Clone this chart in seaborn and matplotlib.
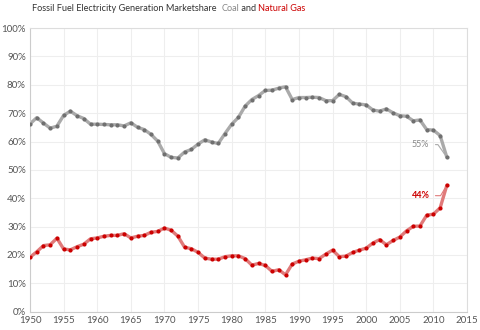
import matplotlib
matplotlib.use("Agg")
import matplotlib.pyplot as plt
import seaborn as sns
import pandas as pd

years = list(range(1950, 2013))
coal = [66.2, 68.4, 66.5, 64.7, 65.4, 69.2, 70.7, 69.1, 68.1, 66.1,
        66.1, 66.0, 65.9, 65.9, 65.5, 66.6, 65.0, 64.2, 62.5, 60.1,
        55.7, 54.4, 54.2, 56.3, 57.2, 59.1, 60.6, 59.8, 59.3, 62.8,
        66.1, 68.5, 72.5, 74.8, 76.2, 78.0, 78.1, 78.8, 79.3, 74.8,
        75.5, 75.5, 75.6, 75.5, 74.4, 74.4, 76.6, 75.8, 73.5, 73.2,
        72.9, 71.1, 70.7, 71.5, 70.1, 69.1, 68.9, 67.3, 67.6, 64.2,
        64.0, 62.1, 54.4]
gas = [19.2, 21.1, 23.3, 23.6, 25.9, 22.1, 21.8, 22.9, 23.8, 25.7,
       26.0, 26.6, 26.9, 26.9, 27.5, 26.0, 26.6, 26.9, 28.0, 28.3,
       29.5, 28.7, 26.6, 22.7, 22.2, 20.9, 18.9, 18.5, 18.5, 19.4,
       19.7, 19.7, 18.7, 16.4, 17.0, 16.3, 14.2, 14.8, 13.0, 16.8,
       17.8, 18.3, 18.9, 18.7, 20.3, 21.7, 19.4, 19.6, 20.9, 21.7,
       22.4, 24.2, 25.4, 23.6, 25.1, 26.3, 28.5, 30.1, 30.2, 34.0,
       34.4, 36.6, 44.6]
x_ticks = list(range(1950, 2016, 5))
y_ticks = list(range(0, 101, 10))
y_labels = [f"{v}%" for v in y_ticks]
title_parts = [("Fossil Fuel Electricity Generation Marketshare  ", "#333333"),
               ("Coal", "#888888"), (" and ", "#333333"), ("Natural Gas", "#cc0000")]
end_labels = ["55%", "44%"]

df = pd.DataFrame({"year": years, "coal": coal, "gas": gas})

sns.set_style("white")
plt.rcParams["font.family"] = ["Lato", "DejaVu Sans"]

fig = plt.figure(figsize=(4.8, 3.3), dpi=100)
ax = fig.add_axes([0.0625, 0.0555, 0.973 - 0.0625, 0.915 - 0.0555])

sns.lineplot(data=df, x="year", y="coal", ax=ax, color="#aaaaaa", linewidth=2.4, zorder=2)
sns.scatterplot(data=df, x="year", y="coal", ax=ax, color="#707070", s=9, linewidth=0, zorder=3)
sns.lineplot(data=df, x="year", y="gas", ax=ax, color="#e07a7a", linewidth=2.4, zorder=2)
sns.scatterplot(data=df, x="year", y="gas", ax=ax, color="#cc0000", s=9, linewidth=0, zorder=3)

ax.set_xlim(1950, 2015)
ax.set_ylim(0, 100)
ax.set_xticks(x_ticks)
ax.set_yticks(y_ticks)
ax.set_yticklabels(y_labels)
ax.set_xlabel("")
ax.set_ylabel("")
ax.tick_params(axis="both", labelsize=7, colors="#555555", length=0, pad=3)
ax.grid(True, color="#eeeeee", linewidth=0.8)
for s in ax.spines.values():
    s.set_color("#dddddd")
    s.set_linewidth(0.8)
ax.spines["left"].set_color("#cccccc")
ax.spines["bottom"].set_color("#cccccc")

# end labels
ax.annotate(end_labels[0], xy=(years[-1], coal[-1]), xytext=(2009.4, 58.9),
            fontsize=6.5, color="#888888", ha="right", va="center",
            arrowprops=dict(arrowstyle="-", color="#aaaaaa", lw=0.8,
                            connectionstyle="angle,angleA=0,angleB=125,rad=0",
                            shrinkA=2, shrinkB=3))
ax.annotate(end_labels[1], xy=(years[-1], gas[-1]), xytext=(2009.4, 40.9),
            fontsize=6.5, color="#cc0000", fontweight="bold", ha="right", va="center",
            arrowprops=dict(arrowstyle="-", color="#e07a7a", lw=0.8,
                            connectionstyle="angle,angleA=0,angleB=239,rad=0",
                            shrinkA=2, shrinkB=3))

# title in chained pieces
prev = None
for i, (txt, col) in enumerate(title_parts):
    if i == 0:
        prev = fig.text(32 / 480, 1 - 11 / 330, txt, fontsize=6.6, color=col,
                        ha="left", va="baseline")
    else:
        prev = ax.annotate(txt, xy=(1, 0), xycoords=prev, ha="left", va="bottom",
                           fontsize=6.6, color=col, annotation_clip=False)

fig.savefig("out.png", dpi=100)
